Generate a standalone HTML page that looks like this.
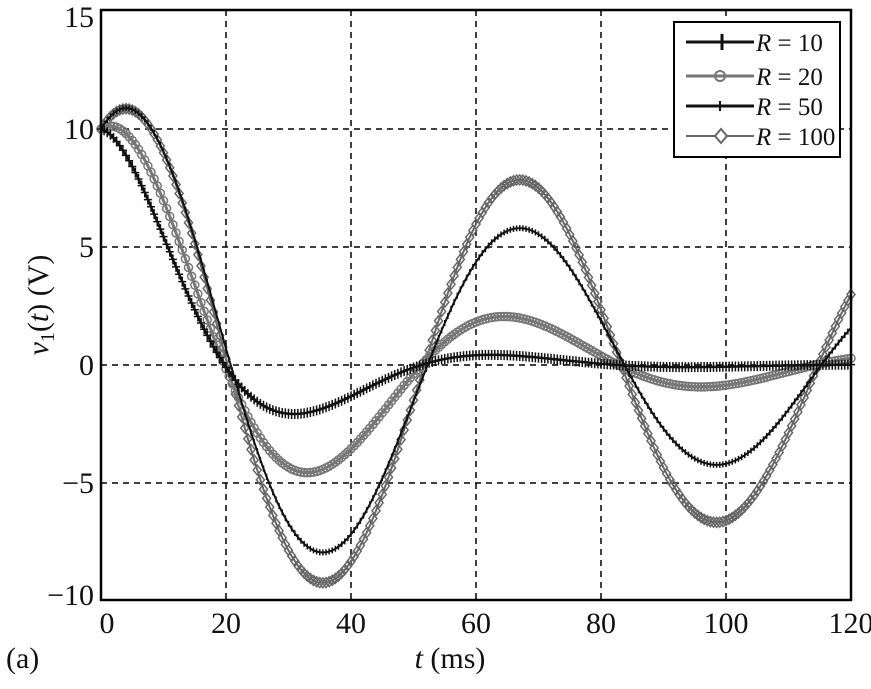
<!DOCTYPE html>
<html><head><meta charset="utf-8"><style>
html,body{margin:0;padding:0;background:#fff;}
svg text{font-family:"Liberation Serif","DejaVu Serif",serif;fill:#111;}
</style></head><body>
<svg id="s" width="871" height="684" viewBox="0 0 871 684" xmlns="http://www.w3.org/2000/svg">
<rect width="871" height="684" fill="#fff"/>
<g id="grid" stroke="#000" stroke-width="1.5" stroke-dasharray="6,5"></g>
<g id="series"></g>
<rect x="101" y="10" width="750" height="590" fill="none" stroke="#000" stroke-width="2.5"/>
<g id="ticks" font-size="30"></g>
<text x="450" y="668" font-size="30" text-anchor="middle"><tspan font-style="italic">t</tspan> (ms)</text>
<text transform="translate(48,305) rotate(-90)" font-size="30" text-anchor="middle"><tspan font-style="italic">v</tspan><tspan font-size="20" dy="6">1</tspan><tspan dy="-6">(</tspan><tspan font-style="italic">t</tspan>) (V)</text>
<text x="6" y="668" font-size="30">(a)</text>
<g>
<rect x="674" y="22" width="166" height="135" fill="#fff" stroke="#000" stroke-width="2"/>
<line x1="686" y1="42" x2="754" y2="42" stroke="#111" stroke-width="3"/><line x1="722" y1="34" x2="722" y2="50" stroke="#111" stroke-width="3"/>
<line x1="686" y1="76" x2="754" y2="76" stroke="#777" stroke-width="3"/><circle cx="720" cy="76" r="5" fill="none" stroke="#777" stroke-width="2"/>
<line x1="686" y1="106" x2="754" y2="106" stroke="#111" stroke-width="3"/><line x1="720" y1="101" x2="720" y2="111" stroke="#111" stroke-width="2"/>
<line x1="686" y1="136" x2="754" y2="136" stroke="#666" stroke-width="2"/><path d="M721 129 L727 136 L721 143 L715 136 Z" fill="#fff" stroke="#666" stroke-width="2"/>
<text x="756" y="51" font-size="25"><tspan font-style="italic">R</tspan> = 10</text>
<text x="756" y="85" font-size="25"><tspan font-style="italic">R</tspan> = 20</text>
<text x="756" y="115" font-size="25"><tspan font-style="italic">R</tspan> = 50</text>
<text x="756" y="145" font-size="25"><tspan font-style="italic">R</tspan> = 100</text>
</g>
</svg>
<script>
const X=t=>101+t*750/120, Y=v=>365-v*23.6;
const ns="http://www.w3.org/2000/svg";
function el(p,n,a){const e=document.createElementNS(ns,n);for(const k in a)e.setAttribute(k,a[k]);p.appendChild(e);return e;}
const g=document.getElementById('grid');
for(let t=20;t<120;t+=20)el(g,'line',{x1:X(t),y1:10,x2:X(t),y2:600});
for(let v=-5;v<15;v+=5)el(g,'line',{x1:101,y1:Y(v),x2:851,y2:Y(v)});
const tk=document.getElementById('ticks');
for(let t=0;t<=120;t+=20){const e=el(tk,'text',{x:X(t)+(t==0?6:0),y:633,'text-anchor':'middle'});e.textContent=t;}
[[15,'15'],[10,'10'],[5,'5'],[0,'0'],[-5,'\u22125'],[-10,'\u221210']].forEach(([v,s])=>{const e=el(tk,'text',{x:94,y:Y(v)+10+(v==-10?-6:0)+(v==15?6:0),'text-anchor':'end'});e.textContent=s;});
const w=2*Math.PI/63;
const S=[
 {P:-9.6,a:0.00516,tp:36,c:'#666',m:'d',sw:2},
 {P:-4.5,a:0.0253,tp:35.5,c:'#777',m:'o',sw:3},
 {P:-7.8,a:0.0100,tp:36.5,c:'#111',m:'x',sw:2},
 {P:-1.85,a:0.05,tp:35.5,c:'#111',m:'+',sw:2.5},
];
const sg=document.getElementById('series');
S.forEach(s=>{
 const f=t=>s.P*Math.exp(-s.a*(t-s.tp))*Math.cos(w*(t-s.tp));
 const k=10/f(0);
 let d='';const pts=[];
 for(let t=0;t<=120.001;t+=0.5){const x=X(t),y=Y(f(t)*k);d+=(t?'L':'M')+x.toFixed(1)+' '+y.toFixed(1);pts.push([x,y]);}
 el(sg,'path',{d:d,fill:'none',stroke:s.c,'stroke-width':s.sw});
 let md='';
 pts.forEach(([x,y])=>{
  if(s.m=='+')md+=`M${x-4} ${y}h8M${x} ${y-5}v10`;
  else if(s.m=='x')md+=`M${x} ${y-3}v6`;
  else if(s.m=='o')md+=`M${x-4} ${y}a4 4 0 1 0 8 0a4 4 0 1 0 -8 0`;
  else md+=`M${x} ${y-5}L${x+4} ${y}L${x} ${y+5}L${x-4} ${y}Z`;
 });
 el(sg,'path',{d:md,fill:'none',stroke:s.c,'stroke-width':1.5});
});
</script>
</body></html>
